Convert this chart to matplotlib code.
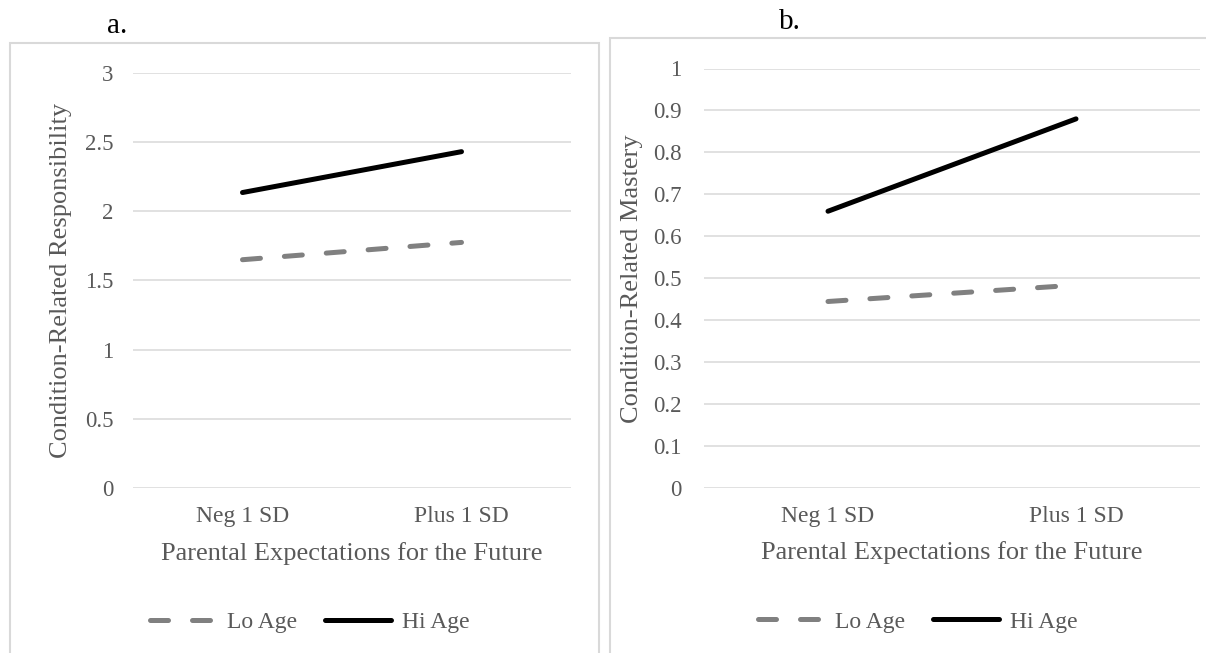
import matplotlib.pyplot as plt
from matplotlib.patches import Rectangle

plt.rcParams['font.family'] = ['Liberation Serif', 'DejaVu Serif']

# Data
categories = ['Neg 1 SD', 'Plus 1 SD']
resp_lo = [1.65, 1.775]
resp_hi = [2.135, 2.43]
mast_lo = [0.445, 0.484]
mast_hi = [0.66, 0.88]
resp_ticks = [0, 0.5, 1, 1.5, 2, 2.5, 3]
resp_tick_labels = ['0', '0.5', '1', '1.5', '2', '2.5', '3']
mast_ticks = [0, 0.1, 0.2, 0.3, 0.4, 0.5, 0.6, 0.7, 0.8, 0.9, 1]
mast_tick_labels = ['0', '0.1', '0.2', '0.3', '0.4', '0.5', '0.6', '0.7', '0.8', '0.9', '1']

W, H = 1206, 653
fig = plt.figure(figsize=(W / 100, H / 100), dpi=100)

text_grey = '#595959'
grid_grey = '#d9d9d9'


def px_axes(left, right, top, bottom):
    return fig.add_axes([left / W, 1 - bottom / H, (right - left) / W, (bottom - top) / H])


# panel borders
fig.patches.append(Rectangle((10 / W, -0.05), 589 / W, 1.05 - 43 / H, transform=fig.transFigure,
                             fill=False, edgecolor=grid_grey, linewidth=1.5))
fig.patches.append(Rectangle((610 / W, -0.05), 0.6, 1.05 - 38 / H, transform=fig.transFigure,
                             fill=False, edgecolor=grid_grey, linewidth=1.5))

fig.text(117 / W, 1 - 33 / H, 'a.', ha='center', va='baseline', fontsize=21, color='black')
fig.text(790 / W, 1 - 29 / H, 'b.', ha='center', va='baseline', fontsize=21, color='black')


def draw_panel(ax, lo, hi, ticks, tick_labels, ylabel, ymax, ylab_x, xlab_y, leg_xy, ypad):
    x = range(len(categories))
    ax.plot(x, lo, color='#808080', linewidth=3.6, dashes=(3.6, 4.8),
            solid_capstyle='round', dash_capstyle='round', label='Lo Age')
    ax.plot(x, hi, color='black', linewidth=3.6, solid_capstyle='round', label='Hi Age')
    ax.set_xlim(-0.5, 1.5)
    ax.set_ylim(0, ymax)
    ax.set_yticks(ticks)
    ax.set_yticklabels(tick_labels)
    ax.set_xticks(list(x))
    ax.set_xticklabels(categories)
    ax.grid(axis='y', color=grid_grey, linewidth=1.1)
    ax.set_axisbelow(True)
    for s in ax.spines.values():
        s.set_visible(False)
    ax.tick_params(axis='y', length=0, pad=ypad, labelsize=16.5, labelcolor=text_grey)
    ax.tick_params(axis='x', length=0, pad=13, labelsize=17, labelcolor=text_grey)
    ax.set_ylabel(ylabel, fontsize=19, color=text_grey, va='center')
    ax.yaxis.set_label_coords(ylab_x, 0.5)
    ax.set_xlabel('Parental Expectations for the Future', fontsize=19, color=text_grey, va='center')
    ax.xaxis.set_label_coords(0.5, xlab_y)
    leg = ax.legend(loc='center', bbox_to_anchor=leg_xy, ncol=2, frameon=False,
                    fontsize=17, handlelength=2.8, handletextpad=0.45, columnspacing=1.2)
    for t in leg.get_texts():
        t.set_color(text_grey)


ax_a = px_axes(133, 571, 72.7, 488.3)
draw_panel(ax_a, resp_lo, resp_hi, resp_ticks, resp_tick_labels,
           'Condition-Related Responsibility', 3, -0.164, -0.156, (0.404, -0.322), 14)

ax_b = px_axes(704, 1200, 68.5, 488.3)
draw_panel(ax_b, mast_lo, mast_hi, mast_ticks, mast_tick_labels,
           'Condition-Related Mastery', 1, -0.145, -0.154, (0.431, -0.318), 16)

fig.savefig('out.png', dpi=100)
